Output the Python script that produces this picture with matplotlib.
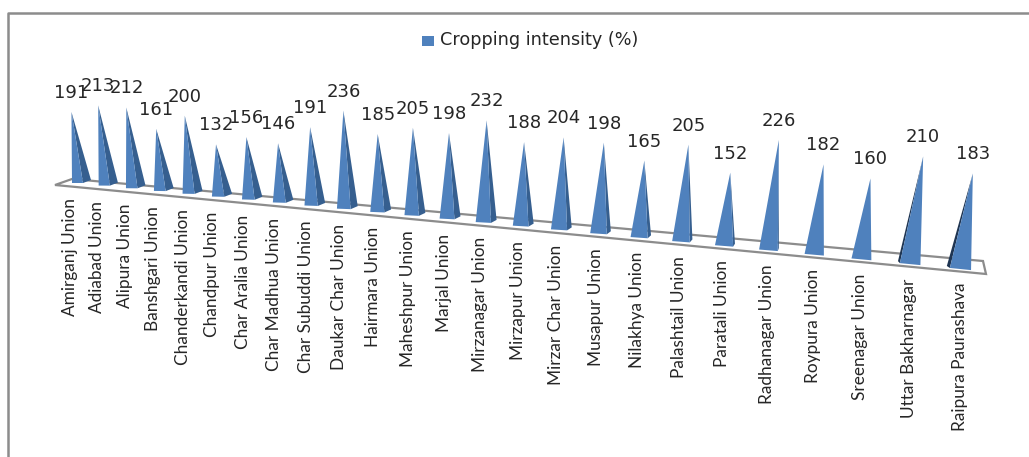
import matplotlib
matplotlib.use("Agg")
import matplotlib.pyplot as plt
from matplotlib.patches import Polygon, Rectangle

# Cropping intensity per union
unions = ["Amirganj Union", "Adiabad Union", "Alipura Union", "Banshgari Union",
          "Chanderkandi Union", "Chandpur Union", "Char Aralia Union", "Char Madhua Union",
          "Char Subuddi Union", "Daukar Char Union", "Hairmara Union", "Maheshpur Union",
          "Marjal Union", "Mirzanagar Union", "Mirzapur Union", "Mirzar Char Union",
          "Musapur Union", "Nilakhya Union", "Palashtail Union", "Paratali Union",
          "Radhanagar Union", "Roypura Union", "Sreenagar Union", "Uttar Bakharnagar",
          "Raipura Paurashava"]
intensity = [191, 213, 212, 161, 200, 132, 156, 146, 191, 236, 185, 205, 198,
             232, 188, 204, 198, 165, 205, 152, 226, 182, 160, 210, 183]
series_name = "Cropping intensity (%)"

front_color = "#4f81bd"
side_color = "#365f8f"
line_color = "#8c8c8c"
text_color = "#262626"

W, H = 1029, 457
fig = plt.figure(figsize=(W / 100, H / 100), dpi=100)
ax = fig.add_axes([0, 0, 1, 1])
ax.set_xlim(0, W)
ax.set_ylim(H, 0)
ax.axis("off")

# crude perspective: categories get wider and taller to the right
persp = 0.01165
step = 26.35
rise = 0.372


def scale(i):
    return 1 / (1 - persp * i)


def left_x(i):
    return 72 + step * i * scale(i)


def floor_y(x):
    return 183 + 0.0968 * (x - 72)


# frame of the chart, only left and top are in the picture
ax.plot([8, 8, W], [H, 13, 13], color=line_color, lw=1.8)

# floor of the 3D box
floor = [(55, 185), (72, 179), (983, 261), (986, 274)]
ax.add_patch(Polygon(floor, closed=True, fc="white", ec=line_color, lw=1.6, zorder=1))

for i, value in enumerate(intensity):
    x0 = left_x(i)
    y0 = floor_y(x0)
    width = 11 * scale(i) ** 2
    depth = 8 - 11 * (i / 24) ** 2.5
    height = rise * value * scale(i)
    lean = -0.085 + 0.009 * i
    tip = (x0 + width / 2 + lean * height, y0 - height)
    front_l = (x0, y0)
    front_r = (x0 + width, y0 + 0.1 * width * i / 24)

    # side face shows on the right at first, on the left at the far end
    if depth > 0:
        back = (front_r[0] + depth, front_r[1] - 3)
        ax.add_patch(Polygon([tip, front_r, back], fc=side_color, ec="none", zorder=2))
    elif depth < -1.3:
        back = (front_l[0] + depth, front_l[1] - 2)
        ax.add_patch(Polygon([tip, front_l, back], fc="#1f3552", ec="none", zorder=2))
    ax.add_patch(Polygon([tip, front_l, front_r], fc=front_color, ec="none", zorder=3))

    ax.text(tip[0], tip[1] - 19, str(value), ha="center", va="center",
            fontsize=13, color=text_color, zorder=4)
    ax.text(x0 - 2 + 0.5 * i, y0 + 15, unions[i], rotation=90, ha="center", va="top",
            fontsize=12.4, family="Lato", color=text_color, zorder=4)

# legend
ax.add_patch(Rectangle((422, 36), 12, 10, fc=front_color, ec="none"))
ax.text(440, 40, series_name, ha="left", va="center", fontsize=12.7, color=text_color)

fig.savefig("out.png", dpi=100)
